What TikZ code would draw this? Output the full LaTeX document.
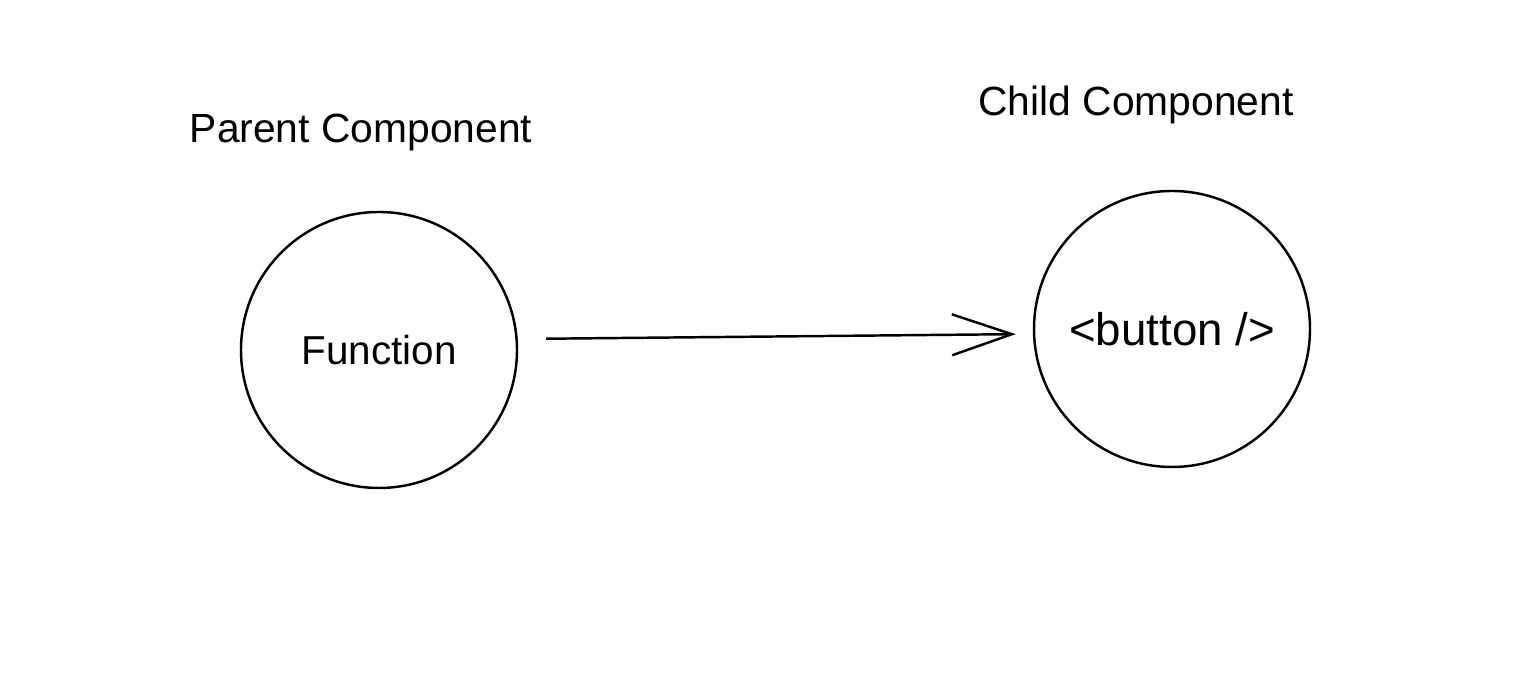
\documentclass[tikz,border=0pt]{standalone}
\usepackage{fontspec}
\setmainfont{Liberation Sans}
\usetikzlibrary{arrows.meta}
\begin{document}
\begin{tikzpicture}[
  x=1cm,y=1cm,
  comp/.style={circle, draw, line width=0.7pt, minimum size=#1, inner sep=0pt, font=\fontsize{11.5}{14}\selectfont},
  title/.style={font=\fontsize{11.6}{14}\selectfont},
  link/.style={line width=0.7pt, -{Straight Barb[length=6mm,width=4.1mm,line width=0.7pt]}}
]
\useasboundingbox (0,0) rectangle (15.18,6.76);
% y = (676 - ypx)/100
\node[comp=2.76cm] (parent) at (3.79,3.26) {Function};
\node[comp=2.76cm, font=\fontsize{13}{16}\selectfont] (child) at (11.72,3.47) {<button />};
\node[title] (ptitle) at (3.61,5.43) {Parent Component};
\node[title] (ctitle) at (11.36,5.71) {Child Component};
\draw[link, shorten <=0.28cm, shorten >=0.17cm] (parent.east |- 0,3.37) -- (child.west |- 0,3.42);
\end{tikzpicture}
\end{document}
